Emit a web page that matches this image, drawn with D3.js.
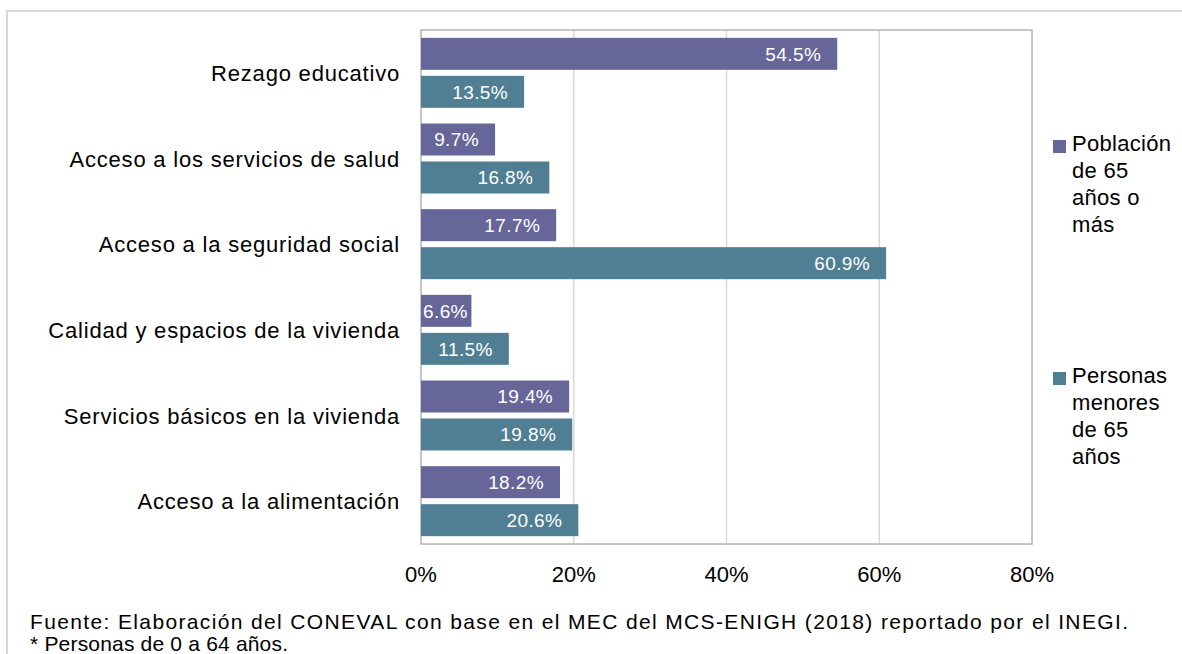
<!DOCTYPE html>
<html lang="es">
<head>
<meta charset="utf-8">
<script src="https://cdn.jsdelivr.net/npm/d3@7"></script>
<style>
  html, body { margin: 0; padding: 0; background: #fff; }
  svg { display: block; font-family: "Liberation Sans", Arial, sans-serif; }
</style>
</head>
<body>
<svg id="chart" width="1182" height="654"></svg>
<script>
// Carencias sociales por grupo de edad (porcentaje)
const categories = [
  "Rezago educativo",
  "Acceso a los servicios de salud",
  "Acceso a la seguridad social",
  "Calidad y espacios de la vivienda",
  "Servicios básicos en la vivienda",
  "Acceso a la alimentación"
];
const seriesNames = ["Población de 65 años o más", "Personas menores de 65 años"];
const mayores = [54.5, 9.7, 17.7, 6.6, 19.4, 18.2];
const menores = [13.5, 16.8, 60.9, 11.5, 19.8, 20.6];
const xTicks = [0, 20, 40, 60, 80];
const legendLines = [
  ["Población", "de 65", "años o", "más"],
  ["Personas", "menores", "de 65", "años"]
];
const notes = [
  "Fuente: Elaboración del CONEVAL con base en el MEC del MCS-ENIGH (2018) reportado por el INEGI.",
  "* Personas de 0 a 64 años."
];

const colors = ["#666699", "#507f93"];
const values = [mayores, menores];

const svg = d3.select("#chart");

// outer frame
svg.append("rect")
  .attr("x", 7).attr("y", 11)
  .attr("width", 1220).attr("height", 700)
  .attr("fill", "none")
  .attr("stroke", "#d9d9d9")
  .attr("stroke-width", 2);

const plot = { left: 421, right: 1032, top: 30, bottom: 544 };

const x = d3.scaleLinear().domain([0, 80]).range([plot.left, plot.right]);
const y = d3.scaleBand()
  .domain(categories)
  .range([plot.top, plot.bottom])
  .paddingInner(0.183)
  .paddingOuter(0.0915);
const ySub = d3.scaleBand()
  .domain([0, 1])
  .range([0, y.bandwidth()])
  .paddingInner(0.158);

// gridlines
svg.append("g")
  .selectAll("line")
  .data(xTicks.filter(t => t > 0 && t < 80))
  .join("line")
  .attr("x1", d => x(d)).attr("x2", d => x(d))
  .attr("y1", plot.top).attr("y2", plot.bottom)
  .attr("stroke", "#d9d9d9")
  .attr("stroke-width", 1.5);

// plot border
svg.append("rect")
  .attr("x", plot.left).attr("y", plot.top)
  .attr("width", plot.right - plot.left)
  .attr("height", plot.bottom - plot.top)
  .attr("fill", "none")
  .attr("stroke", "#b4b4b4")
  .attr("stroke-width", 1.5);

// bars
const groups = svg.append("g")
  .selectAll("g")
  .data(categories)
  .join("g")
  .attr("transform", d => `translate(0,${y(d)})`);

const barData = (c, i) => [0, 1].map(s => ({ s, v: values[s][i] }));

groups.each(function (c, i) {
  const g = d3.select(this);
  const d = barData(c, i);
  g.selectAll("rect")
    .data(d)
    .join("rect")
    .attr("x", x(0))
    .attr("y", e => ySub(e.s))
    .attr("width", e => x(e.v) - x(0))
    .attr("height", ySub.bandwidth())
    .attr("fill", e => colors[e.s]);

  g.selectAll("text")
    .data(d)
    .join("text")
    .attr("y", e => ySub(e.s) + ySub.bandwidth() / 2 + 7)
    .attr("text-anchor", "end")
    .attr("fill", "#ffffff")
    .attr("font-size", 19)
    .attr("letter-spacing", 0.4)
    .text(e => e.v.toFixed(1) + "%")
    .attr("x", function (e) {
      const w = this.getComputedTextLength();
      return Math.max(x(e.v) - 16, x(0) + 2 + w);
    });
});

// category labels
svg.append("g")
  .selectAll("text")
  .data(categories)
  .join("text")
  .attr("x", 400)
  .attr("y", d => y(d) + y.bandwidth() / 2 + 8)
  .attr("text-anchor", "end")
  .attr("font-size", 22)
  .attr("letter-spacing", 0.8)
  .attr("fill", "#000")
  .text(d => d);

// x axis labels
svg.append("g")
  .selectAll("text")
  .data(xTicks)
  .join("text")
  .attr("x", d => x(d))
  .attr("y", 582)
  .attr("text-anchor", "middle")
  .attr("font-size", 22)
  .attr("fill", "#000")
  .text(d => d + "%");

// legend
const legendTop = [140, 372];
legendLines.forEach((lines, s) => {
  const g = svg.append("g");
  g.append("rect")
    .attr("x", 1053).attr("y", legendTop[s])
    .attr("width", 13).attr("height", 13)
    .attr("fill", colors[s]);
  g.selectAll("text")
    .data(lines)
    .join("text")
    .attr("x", 1072)
    .attr("y", (d, k) => legendTop[s] + 11 + k * 27)
    .attr("font-size", 22)
    .attr("letter-spacing", 0.3)
    .attr("fill", "#000")
    .text(d => d);
});

// notes
svg.append("g")
  .selectAll("text")
  .data(notes)
  .join("text")
  .attr("x", 30)
  .attr("y", (d, k) => 629 + k * 22)
  .attr("font-size", 21)
  .attr("textLength", (d, k) => k === 0 ? 1098 : 258)
  .attr("lengthAdjust", "spacing")
  .attr("fill", "#000")
  .text(d => d);
</script>
</body>
</html>
